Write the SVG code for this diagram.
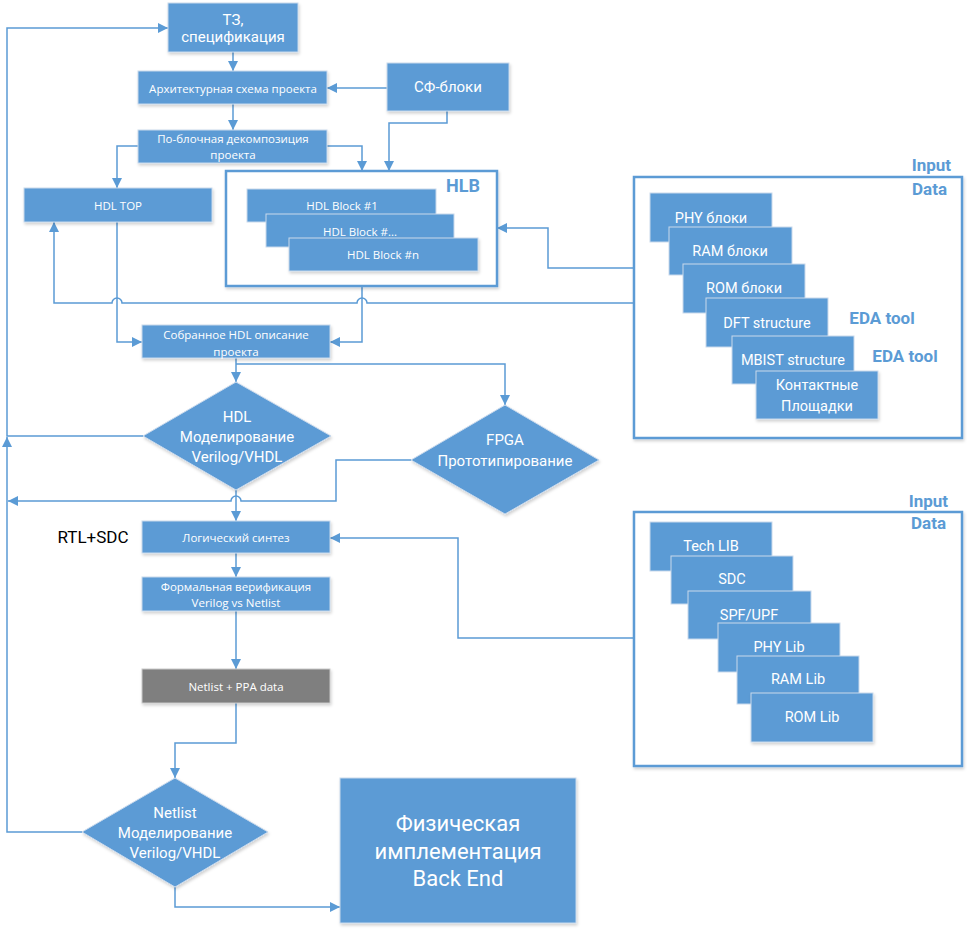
<svg xmlns="http://www.w3.org/2000/svg" width="970" height="934" viewBox="0 0 970 934">
<style>
.bx{fill:#5b9bd5;stroke:#c9d9ec;stroke-width:1;}
.gr{fill:#7f7f7f;stroke:#c9c9c9;stroke-width:1;}
.ct{fill:#ffffff;stroke:#5b9bd5;stroke-width:2.5;}
.cn{fill:none;stroke:#5b9bd5;stroke-width:1.5;}
.s{font-family:"Open Sans","Noto Sans",sans-serif;font-size:11.5px;fill:#ffffff;text-anchor:middle;dominant-baseline:central;}
.m{font-family:Roboto,"Noto Sans",sans-serif;font-size:15px;fill:#ffffff;text-anchor:middle;dominant-baseline:central;}
.x{font-family:Roboto,"Noto Sans",sans-serif;font-size:22px;fill:#ffffff;text-anchor:middle;dominant-baseline:central;}
.l{font-family:Roboto,"Noto Sans",sans-serif;font-size:14.5px;fill:#ffffff;text-anchor:middle;dominant-baseline:central;}
.b{font-family:Roboto,"Noto Sans",sans-serif;font-weight:bold;font-size:17px;fill:#5b9bd5;dominant-baseline:central;}
.h{font-family:Roboto,"Noto Sans",sans-serif;font-weight:bold;font-size:18px;fill:#5b9bd5;dominant-baseline:central;}
</style>
<defs>
<marker id="ar" markerUnits="userSpaceOnUse" markerWidth="11" markerHeight="10" refX="10" refY="5" orient="auto">
<path d="M0,0 L10,5 L0,10 z" fill="#5b9bd5"/>
</marker>
<filter id="sh" x="-10%" y="-10%" width="130%" height="140%">
<feDropShadow dx="1" dy="2" stdDeviation="1.5" flood-color="#000" flood-opacity="0.18"/>
</filter>
</defs>
<rect width="970" height="934" fill="#ffffff"/>

<g id="connectors">
<path class="cn" d="M143,436 H7 V28 H168" marker-end="url(#ar)"/>
<path class="cn" d="M233,52 V71" marker-end="url(#ar)"/>
<path class="cn" d="M387,88 H327" marker-end="url(#ar)"/>
<path class="cn" d="M233,104 V130" marker-end="url(#ar)"/>
<path class="cn" d="M138,146 H117 V188" marker-end="url(#ar)"/>
<path class="cn" d="M327,146 H362 V171" marker-end="url(#ar)"/>
<path class="cn" d="M447,111 V123 H389 V171" marker-end="url(#ar)"/>
<path class="cn" d="M634,268 H548 V228 H497" marker-end="url(#ar)"/>
<path class="cn" d="M634,303 H367 A5,5 0 0 0 357,303 H122 A5,5 0 0 0 112,303 H54 V222" marker-end="url(#ar)"/>
<path class="cn" d="M117,222 V342 H142" marker-end="url(#ar)"/>
<path class="cn" d="M362,286 V342 H330" marker-end="url(#ar)"/>
<path class="cn" d="M236,358 V382" marker-end="url(#ar)"/>
<path class="cn" d="M236,364 H505 V405" marker-end="url(#ar)"/>
<path class="cn" d="M411,460 H336 V501 H241 A5,5 0 0 0 231,501 H8" marker-end="url(#ar)"/>
<path class="cn" d="M236,490 V521" marker-end="url(#ar)"/>
<path class="cn" d="M634,638 H458 V538 H330" marker-end="url(#ar)"/>
<path class="cn" d="M236,553 V577" marker-end="url(#ar)"/>
<path class="cn" d="M236,611 V669" marker-end="url(#ar)"/>
<path class="cn" d="M236,703 V743 H175 V778" marker-end="url(#ar)"/>
<path class="cn" d="M82,832 H7 V437" marker-end="url(#ar)"/>
<path class="cn" d="M175,887 V907 H340" marker-end="url(#ar)"/>
</g>

<g id="tz"><rect class="bx" x="168" y="3" width="130" height="49" filter="url(#sh)"/>
<text class="m" x="233" y="20">ТЗ,</text><text class="m" x="233" y="37">спецификация</text></g>

<g id="arch"><rect class="bx" x="138" y="71" width="189" height="33" filter="url(#sh)"/>
<text class="s" x="233" y="88">Архитектурная схема проекта</text></g>

<g id="sf"><rect class="bx" x="387" y="63" width="122" height="48" filter="url(#sh)"/>
<text class="m" x="448" y="87">СФ-блоки</text></g>

<g id="decomp"><rect class="bx" x="138" y="130" width="189" height="33" filter="url(#sh)"/>
<text class="s" x="233" y="138">По-блочная декомпозиция</text><text class="s" x="233" y="154">проекта</text></g>

<g id="hdltop"><rect class="bx" x="24" y="188" width="188" height="34" filter="url(#sh)"/>
<text class="s" x="118" y="205">HDL TOP</text></g>

<g id="hlb"><rect class="ct" x="226" y="171" width="271" height="115" filter="url(#sh)"/>
<text class="h" x="480" y="185" text-anchor="end">HLB</text>
<rect class="bx" x="247" y="189" width="189" height="33"/>
<text class="s" x="342" y="205">HDL Block #1</text>
<rect class="bx" x="266" y="214" width="188" height="33"/>
<text class="s" x="360" y="231">HDL Block #...</text>
<rect class="bx" x="289" y="238" width="189" height="33" filter="url(#sh)"/>
<text class="s" x="383" y="254">HDL Block #n</text></g>

<g id="input1"><rect class="ct" x="634" y="177" width="328" height="261" filter="url(#sh)"/>
<text class="b" x="951" y="165" text-anchor="end">Input</text>
<text class="b" x="947" y="189" text-anchor="end">Data</text>
<rect class="bx" x="650" y="193" width="122" height="49"/>
<text class="l" x="711" y="218">PHY блоки</text>
<rect class="bx" x="669" y="227" width="123" height="48"/>
<text class="l" x="730" y="251">RAM блоки</text>
<rect class="bx" x="683" y="264" width="122" height="49"/>
<text class="l" x="744" y="288">ROM блоки</text>
<rect class="bx" x="706" y="298" width="122" height="49"/>
<text class="l" x="767" y="323">DFT structure</text>
<rect class="bx" x="732" y="336" width="122" height="48"/>
<text class="l" x="793" y="360">MBIST structure</text>
<rect class="bx" x="756" y="371" width="122" height="48" filter="url(#sh)"/>
<text class="l" x="817" y="385">Контактные</text>
<text class="l" x="817" y="406">Площадки</text>
<text class="b" x="882" y="318" text-anchor="middle">EDA tool</text>
<text class="b" x="905" y="356" text-anchor="middle">EDA tool</text></g>

<g id="sobr"><rect class="bx" x="142" y="325" width="188" height="33" filter="url(#sh)"/>
<text class="s" x="236" y="334">Собранное HDL описание</text><text class="s" x="236" y="351">проекта</text></g>

<g id="hdlsim"><polygon class="bx" points="236,382 331,436 236,490 143,436" filter="url(#sh)"/>
<text class="m" x="237" y="417">HDL</text><text class="m" x="237" y="437">Моделирование</text><text class="m" x="237" y="457">Verilog/VHDL</text></g>

<g id="fpga"><polygon class="bx" points="505,405 599,460 505,514 411,460" filter="url(#sh)"/>
<text class="m" x="505" y="440">FPGA</text><text class="m" x="505" y="461">Прототипирование</text></g>

<g id="rtl"><text x="93" y="537" font-family="Roboto,'Noto Sans',sans-serif" font-size="17" fill="#000000" text-anchor="middle" dominant-baseline="central">RTL+SDC</text></g>

<g id="synth"><rect class="bx" x="142" y="521" width="188" height="32" filter="url(#sh)"/>
<text class="s" x="236" y="537">Логический синтез</text></g>

<g id="formal"><rect class="bx" x="142" y="577" width="188" height="34" filter="url(#sh)"/>
<text class="s" x="236" y="586">Формальная верификация</text><text class="s" x="236" y="602">Verilog vs Netlist</text></g>

<g id="netppa"><rect class="gr" x="142" y="669" width="188" height="34" filter="url(#sh)"/>
<text class="s" x="236" y="686">Netlist + PPA data</text></g>

<g id="input2"><rect class="ct" x="634" y="512" width="328" height="254" filter="url(#sh)"/>
<text class="b" x="948" y="501" text-anchor="end">Input</text>
<text class="b" x="946" y="523" text-anchor="end">Data</text>
<rect class="bx" x="650" y="522" width="122" height="49"/>
<text class="l" x="711" y="546">Tech LIB</text>
<rect class="bx" x="671" y="556" width="122" height="48"/>
<text class="l" x="732" y="579">SDC</text>
<rect class="bx" x="688" y="591" width="123" height="48"/>
<text class="l" x="749" y="615">SPF/UPF</text>
<rect class="bx" x="718" y="623" width="122" height="49"/>
<text class="l" x="779" y="647">PHY Lib</text>
<rect class="bx" x="737" y="656" width="122" height="48"/>
<text class="l" x="798" y="679">RAM Lib</text>
<rect class="bx" x="751" y="693" width="122" height="49" filter="url(#sh)"/>
<text class="l" x="812" y="717">ROM Lib</text></g>

<g id="netsim"><polygon class="bx" points="175,778 268,832 175,887 82,832" filter="url(#sh)"/>
<text class="m" x="175" y="813">Netlist</text><text class="m" x="175" y="833">Моделирование</text><text class="m" x="175" y="853">Verilog/VHDL</text></g>

<g id="phys"><rect class="bx" x="340" y="778" width="236" height="145" filter="url(#sh)"/>
<text class="x" x="458" y="823">Физическая</text>
<text class="x" x="458" y="851">имплементация</text>
<text class="x" x="458" y="878">Back End</text></g>
</svg>
